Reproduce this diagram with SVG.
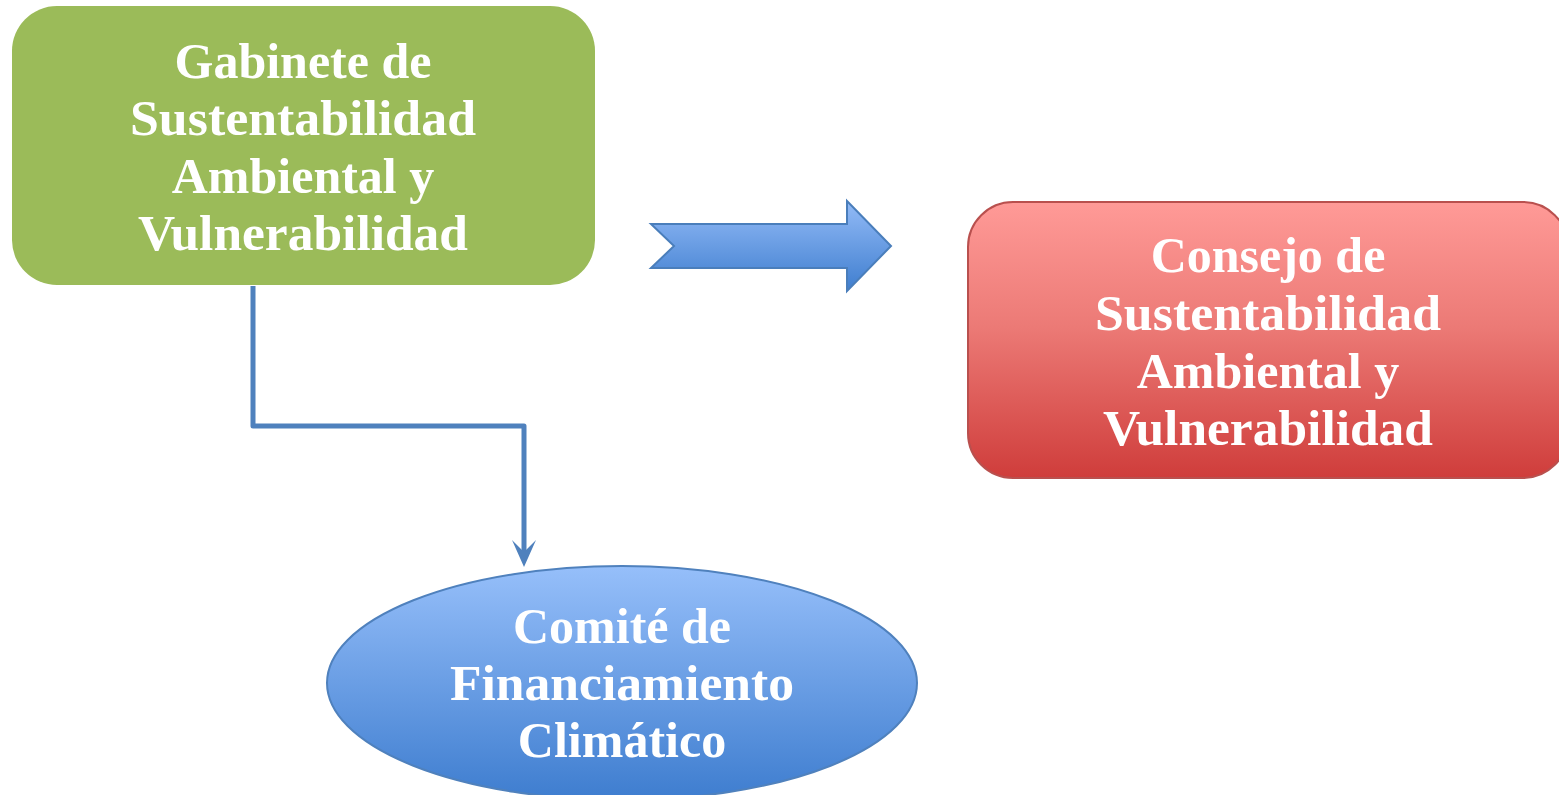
<svg xmlns="http://www.w3.org/2000/svg" width="1559" height="795" viewBox="0 0 1559 795">
<style>
.t{font-family:"Liberation Serif","DejaVu Serif",serif;font-weight:bold;font-size:50px;fill:#ffffff;text-anchor:middle}
.c{fill:none;stroke:#4F81BD;stroke-width:5;stroke-linejoin:round}
</style>
<defs>
<linearGradient id="gr" x1="0" y1="0" x2="0" y2="1">
<stop offset="0" stop-color="#FF9A97"/><stop offset="0.45" stop-color="#EC7A76"/><stop offset="1" stop-color="#CF3D3B"/>
</linearGradient>
<linearGradient id="gb" x1="0" y1="0" x2="0" y2="1">
<stop offset="0" stop-color="#96BFFA"/><stop offset="1" stop-color="#3E7DCF"/>
</linearGradient>
<linearGradient id="ga" x1="0" y1="0" x2="0" y2="1">
<stop offset="0" stop-color="#93BBF7"/><stop offset="1" stop-color="#3F7ECF"/>
</linearGradient>
</defs>
<g id="connectors">
<path class="c" d="M253,286 V426 H524 V552"/>
<path d="M512,540 L524,552 L536,540 L524,567 Z" fill="#4F81BD"/>
<path id="bigarrow" d="M651,224 H847 V201 L891,246 L847,291 V268 H651 L674,246 Z" fill="url(#ga)" stroke="#4A7EBB" stroke-width="2" stroke-linejoin="miter"/>
</g>
<g id="gabinete">
<rect x="12" y="6" width="583" height="279" rx="45" ry="45" fill="#9BBB59"/>
<text class="t" x="303" y="78">Gabinete de</text>
<text class="t" x="303" y="135" textLength="346" lengthAdjust="spacingAndGlyphs">Sustentabilidad</text>
<text class="t" x="303" y="193">Ambiental y</text>
<text class="t" x="303" y="250" textLength="330" lengthAdjust="spacingAndGlyphs">Vulnerabilidad</text>
</g>
<g id="consejo">
<rect x="968" y="202" width="600" height="276" rx="45" ry="45" fill="url(#gr)" stroke="#B9504E" stroke-width="2"/>
<text class="t" x="1268" y="272">Consejo de</text>
<text class="t" x="1268" y="330" textLength="346" lengthAdjust="spacingAndGlyphs">Sustentabilidad</text>
<text class="t" x="1268" y="388">Ambiental y</text>
<text class="t" x="1268" y="445" textLength="330" lengthAdjust="spacingAndGlyphs">Vulnerabilidad</text>
</g>
<g id="comite">
<ellipse cx="622" cy="683" rx="295" ry="117" fill="url(#gb)" stroke="#4F81BD" stroke-width="2"/>
<text class="t" x="622" y="643">Comité de</text>
<text class="t" x="622" y="700" textLength="344" lengthAdjust="spacingAndGlyphs">Financiamiento</text>
<text class="t" x="622" y="757">Climático</text>
</g>
</svg>
